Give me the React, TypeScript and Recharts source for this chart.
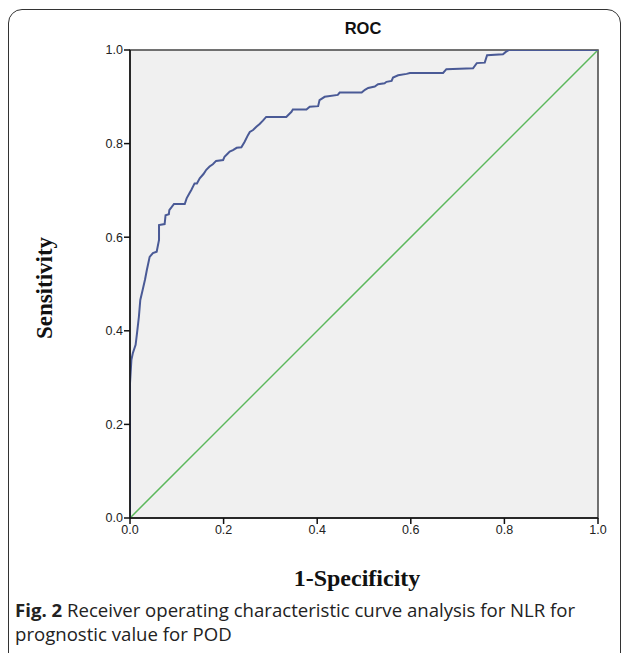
import { LineChart, Line, XAxis, YAxis, ReferenceArea } from "recharts";

// ROC curve points (1-specificity, sensitivity)
const FPR = [
  0, 0, 0.003, 0.006, 0.012, 0.015, 0.019, 0.022, 0.027, 0.032, 0.036, 0.042,
  0.049, 0.057, 0.062, 0.062, 0.074, 0.076, 0.083, 0.084, 0.094, 0.117, 0.121,
  0.127, 0.131, 0.138, 0.143, 0.149, 0.157, 0.163, 0.17, 0.177, 0.184, 0.199,
  0.202, 0.209, 0.213, 0.22, 0.228, 0.238, 0.245, 0.252, 0.256, 0.263, 0.27,
  0.277, 0.284, 0.291, 0.334, 0.345, 0.348, 0.377, 0.384, 0.402, 0.405, 0.416,
  0.444, 0.448, 0.495, 0.502, 0.509, 0.523, 0.53, 0.544, 0.548, 0.559, 0.562,
  0.573, 0.591, 0.598, 0.669, 0.676, 0.733, 0.741, 0.758, 0.763, 0.797, 0.803,
  0.81, 1,
];
const TPR = [
  0, 0.288, 0.338, 0.352, 0.37, 0.395, 0.43, 0.466, 0.487, 0.509, 0.53, 0.558,
  0.566, 0.569, 0.594, 0.626, 0.628, 0.647, 0.649, 0.658, 0.671, 0.671, 0.683,
  0.694, 0.701, 0.715, 0.715, 0.726, 0.735, 0.744, 0.751, 0.756, 0.763, 0.765,
  0.772, 0.779, 0.783, 0.786, 0.791, 0.792, 0.804, 0.818, 0.825, 0.829, 0.836,
  0.842, 0.849, 0.857, 0.857, 0.868, 0.873, 0.873, 0.879, 0.88, 0.893, 0.9,
  0.904, 0.909, 0.909, 0.915, 0.919, 0.922, 0.927, 0.929, 0.932, 0.934, 0.941,
  0.946, 0.949, 0.951, 0.951, 0.959, 0.961, 0.972, 0.973, 0.989, 0.991, 0.996,
  1, 1,
];
// reference (chance) line
const REF_FPR = [0, 1];
const REF_TPR = [0, 1];
const TICKS = [0, 0.2, 0.4, 0.6, 0.8, 1];

const CURVE_COLOR = "#4a5a96";
const REF_COLOR = "#5cb85c";
const PLOT_BG = "#f0f0f0";

const curve = FPR.map((x, i) => ({ fpr: x, tpr: TPR[i] }));
const diagonal = REF_FPR.map((x, i) => ({ fpr: x, tpr: REF_TPR[i] }));

const tickStyle = { fontSize: 12.5, fill: "#222", fontFamily: "'Liberation Sans', Arial, sans-serif" };

export default function App() {
  return (
    <div
      style={{
        position: "fixed",
        left: 0,
        top: 0,
        width: 627,
        height: 653,
        background: "#fff",
        overflow: "hidden",
      }}
    >
      <div
        style={{
          position: "absolute",
          left: 8,
          top: 9,
          width: 613,
          height: 660,
          border: "1.5px solid #333",
          borderRadius: 14,
          boxSizing: "border-box",
        }}
      />
      <LineChart
        width={627}
        height={653}
        margin={{ top: 50, right: 29, bottom: 105, left: 90 }}
        style={{ position: "absolute", left: 0, top: 0 }}
      >
        <ReferenceArea
          x1={0}
          x2={1}
          y1={0}
          y2={1}
          fill={PLOT_BG}
          fillOpacity={1}
          stroke="#444"
          strokeWidth={1.5}
        />
        <XAxis
          type="number"
          dataKey="fpr"
          domain={[0, 1]}
          ticks={TICKS}
          tickFormatter={(v: number) => v.toFixed(1)}
          stroke="#111"
          strokeWidth={1.5}
          tick={tickStyle}
          tickSize={6}
          tickMargin={1}
          height={30}
          allowDataOverflow
        />
        <YAxis
          type="number"
          dataKey="tpr"
          domain={[0, 1]}
          ticks={TICKS}
          tickFormatter={(v: number) => v.toFixed(1)}
          stroke="#111"
          strokeWidth={1.5}
          tick={tickStyle}
          tickSize={6}
          tickMargin={1}
          width={40}
          allowDataOverflow
        />
        <Line
          data={diagonal}
          dataKey="tpr"
          type="linear"
          stroke={REF_COLOR}
          strokeWidth={1.5}
          dot={false}
          isAnimationActive={false}
        />
        <Line
          data={curve}
          dataKey="tpr"
          type="linear"
          stroke={CURVE_COLOR}
          strokeWidth={2}
          dot={false}
          isAnimationActive={false}
        />
      </LineChart>
      <div
        style={{
          position: "absolute",
          left: 313,
          top: 19,
          width: 100,
          textAlign: "center",
          fontFamily: "'Liberation Sans', Arial, sans-serif",
          fontWeight: "bold",
          fontSize: 16.5,
          color: "#111",
        }}
      >
        ROC
      </div>
      <div
        style={{
          position: "absolute",
          left: 45,
          top: 288,
          transform: "translate(-50%, -50%) rotate(-90deg)",
          fontFamily: "'Liberation Serif', 'Times New Roman', serif",
          fontWeight: "bold",
          fontSize: 23,
          color: "#111",
          whiteSpace: "nowrap",
        }}
      >
        Sensitivity
      </div>
      <div
        style={{
          position: "absolute",
          left: 357,
          top: 578,
          transform: "translate(-50%, -50%)",
          fontFamily: "'Liberation Serif', 'Times New Roman', serif",
          fontWeight: "bold",
          fontSize: 24,
          color: "#111",
          whiteSpace: "nowrap",
        }}
      >
        1-Specificity
      </div>
      <div
        style={{
          position: "absolute",
          left: 15,
          top: 598,
          width: 605,
          fontFamily: "'Open Sans', 'Noto Sans', sans-serif",
          fontSize: 18.6,
          lineHeight: "24px",
          color: "#222",
          whiteSpace: "nowrap",
        }}
      >
        <b>Fig. 2</b> Receiver operating characteristic curve analysis for NLR for
        <br />
        prognostic value for POD
      </div>
    </div>
  );
}
